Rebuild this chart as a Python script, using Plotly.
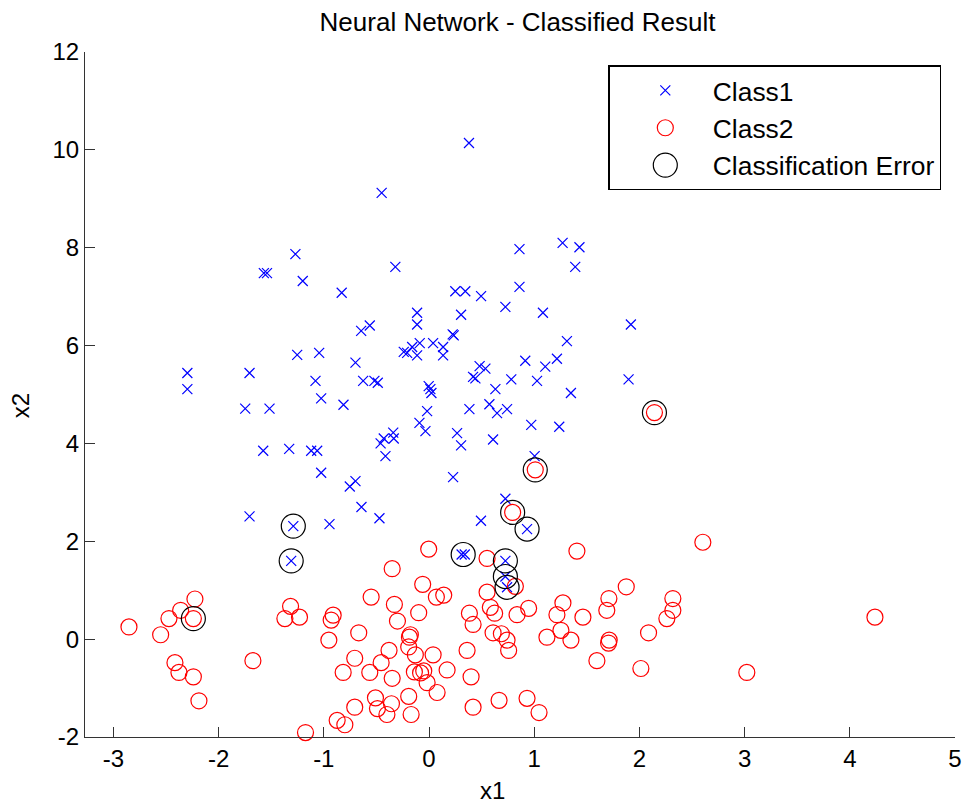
import plotly.graph_objects as go

# Class 1 (blue x)
class1_x = [-0.45, 0.38, -1.27, -1.57, -1.54, -1.20, -0.83, 0.86, 1.27, 1.43, -0.32, 1.39, 0.25, 0.345,
            0.495, 0.86,
            -0.645, -0.563, -1.253, -1.044, -0.699, -2.297, -1.706, -2.297, -1.079, -0.626, -0.519, -0.487,
            -1.025, -0.813, -1.747, -1.516, -0.43, -0.34, -0.335, -0.46, -0.414, -1.576, -1.329, -1.12,
            -1.063, -1.025, -0.753, -0.699, -0.642, -0.471, -1.706, -1.29, -0.946, -1.31,
            0.726, 1.083, -0.113, -0.113, 0.305, 0.225, 0.235, 1.919, 1.311, -0.24, -0.208, -0.16, -0.088,
            -0.113, 0.039, 0.134, 0.134, 0.915, 1.216, 1.105, 0.481, 0.536, 0.419, 0.441, 0.782, 1.027,
            1.897, 0.631, -0.003, 0.013, 0.023, 1.349, -0.018, -0.091, -0.034, 0.267, 0.305, 0.384, 0.574,
            0.647, 0.742, 0.609, 0.972, 1.238, 1.004, 0.229, 0.726, 0.494, 0.932, 0.31, 0.34, 0.726,
            0.726, 0.742]
class1_y = [9.12, 10.14, 7.87, 7.48, 7.48, 7.32, 7.08, 7.97, 8.10, 8.01, 7.61, 7.61, 7.11, 7.11,
            7.01, 7.20,
            6.30, 6.41, 5.81, 5.85, 5.65, 5.44, 5.44, 5.11, 5.28, 5.28, 5.28, 5.24,
            4.92, 4.79, 4.71, 4.71, 4.10, 4.22, 4.10, 4.00, 3.74, 3.85, 3.89, 3.85,
            3.85, 3.40, 3.12, 3.23, 2.70, 2.47, 2.51, 2.31, 2.35, 1.60,
            6.79, 6.67, 6.67, 6.43, 6.63, 6.23, 6.21, 6.43, 6.09, 5.87, 5.85, 5.97, 6.05,
            5.80, 6.05, 5.97, 5.80, 5.69, 5.73, 5.57, 5.58, 5.53, 5.36, 5.33, 5.31, 5.28,
            5.31, 5.11, 5.17, 5.11, 5.03, 5.03, 4.66, 4.42, 4.25, 4.21, 3.96, 4.70, 4.80,
            4.62, 4.70, 4.08, 4.38, 4.34, 3.74, 3.31, 2.87, 2.42, 2.25, 1.73, 1.73, 1.60,
            1.28, 1.06]

# Class 2 (red o)
class2_x = [-2.225, -2.361, -2.472, -2.24, -2.852, -2.551, -2.415, -2.377, -2.24, -2.187, -1.674,
            -1.316, -1.37, -1.231, -0.35, -0.55, -0.911, -0.93, -0.952, -0.668, -0.706, -0.816,
            -0.563, -0.455, -0.38, -0.509, -0.49, -0.706, -0.873, -0.80, -1.174, -0.40, -0.357,
            0.795, -0.003, 1.406, 0.552, 0.821, -0.06, 0.07, 0.14, 0.552, 1.875, 2.318, 2.318, 2.261,
            1.71, 1.69, 1.273, 1.216, 1.463, 0.947, 0.837, 0.583, 0.624, 0.384, 0.419, -0.098, -0.329,
            -0.30, -0.177, -0.186, -0.193, -0.13, 0.039, 0.362, 0.609, 0.688, 0.742, 0.757, 1.121,
            1.254, 1.349, 1.713, 1.707, 2.087, 1.596, 2.014, -0.35, -0.139, -0.08, -0.05, -0.018,
            0.172, 0.077, 0.40, -0.193, -0.17, 0.419, 0.666, 0.932, 1.046,
            1.01, 2.143, 2.603, 4.239, 3.021]
class2_y = [0.82, 0.59, 0.42, 0.42, 0.25, 0.09, -0.48, -0.68, -0.77, -1.26, -0.44,
            0.67, 0.42, 0.45, 1.44, 0.86, 0.49, 0.39, -0.02, 0.13, -0.39, -0.68,
            -0.68, -0.48, -0.23, -1.20, -1.42, -1.39, -1.66, -1.75, -1.91, -1.54, -1.32,
            2.59, 1.84, 1.80, 1.65, 1.08, 1.12, 0.86, 0.90, 0.96, 1.07, 0.83, 0.59, 0.42,
            0.83, 0.59, 0.74, 0.50, 0.45, 0.63, 0.50, 0.65, 0.53, 0.53, 0.30, 0.54, 0.71,
            0.37, 0.09, 0.04, -0.16, -0.32, -0.32, -0.23, 0.13, 0.11, -0.02, -0.23, 0.04,
            0.18, -0.02, -0.02, -0.08, 0.13, -0.44, -0.60, -0.80, -0.67, -0.69, -0.65, -0.89,
            -0.63, -1.09, -0.77, -1.17, -1.54, -1.39, -1.25, -1.21, -1.50,
            3.46, 4.63, 1.98, 0.45, -0.68]

# Misclassified points
error_x = [-2.24, -1.29, -1.31, 0.325, 0.726, 0.726, 0.742, 0.795, 0.932, 1.01, 2.143]
error_y = [0.42, 2.31, 1.60, 1.73, 1.60, 1.28, 1.06, 2.59, 2.25, 3.46, 4.63]

x_ticks = [-3, -2, -1, 0, 1, 2, 3, 4, 5]
x_tick_labels = ["-3", "-2", "-1", "0", "1", "2", "3", "4", "5"]
y_ticks = [-2, 0, 2, 4, 6, 8, 10, 12]
y_tick_labels = ["-2", "0", "2", "4", "6", "8", "10", "12"]

FONT = "Liberation Sans, Arial, Helvetica, sans-serif"

fig = go.Figure()
fig.add_trace(go.Scatter(
    x=class1_x, y=class1_y, mode="markers", name="Class1", cliponaxis=False,
    marker=dict(symbol="x-thin", size=10, color="#0000ff",
                line=dict(color="#0000ff", width=1.2))))
fig.add_trace(go.Scatter(
    x=class2_x, y=class2_y, mode="markers", name="Class2", cliponaxis=False,
    marker=dict(symbol="circle-open", size=16, color="#ff0000",
                line=dict(color="#ff0000", width=1.2))))
fig.add_trace(go.Scatter(
    x=error_x, y=error_y, mode="markers", name="Classification Error", cliponaxis=False,
    marker=dict(symbol="circle-open", size=24, color="#000000",
                line=dict(color="#000000", width=1.2))))

axis_common = dict(
    ticks="inside", ticklen=10, tickwidth=1, tickcolor="#333333",
    showline=True, linecolor="#333333", linewidth=1,
    showgrid=False, zeroline=False, mirror=False, automargin=False,
    tickfont=dict(family=FONT, size=24, color="#000000"),
)

fig.update_layout(
    width=965, height=805,
    paper_bgcolor="white", plot_bgcolor="white",
    margin=dict(l=85, r=10, t=52, b=68, autoexpand=False),
    font=dict(family=FONT, color="#000000"),
    title=dict(text="Neural Network - Classified Result", x=0.5363, xanchor="center",
               xref="container", y=0.9727, yanchor="middle", yref="container",
               font=dict(family=FONT, size=26, color="#000000")),
    xaxis=dict(range=[-3.27, 5], tickvals=x_ticks, ticktext=x_tick_labels, **axis_common),
    yaxis=dict(range=[-2, 12], tickvals=y_ticks, ticktext=y_tick_labels, **axis_common),
    legend=dict(x=0.6015, y=0.9806, xanchor="left", yanchor="top",
                bgcolor="white", bordercolor="#000000", borderwidth=1.5,
                font=dict(family=FONT, size=26.4, color="#000000"),
                itemwidth=93),
    showlegend=True,
    annotations=[
        dict(text="x1", xref="paper", yref="paper", x=0.468, y=-0.0774,
             xanchor="center", yanchor="middle", showarrow=False,
             font=dict(family=FONT, size=24, color="#000000")),
        dict(text="x2", xref="paper", yref="paper", x=-0.0747, y=0.483,
             xanchor="center", yanchor="middle", showarrow=False, textangle=-90,
             font=dict(family=FONT, size=24, color="#000000")),
    ],
)

# Remove default page margin; enlarge the legend symbol of the error trace
# (plotly caps legend marker sizes at 16 px).
post = """
document.body.style.margin = '0';
document.body.style.padding = '0';
document.body.style.overflow = 'hidden';
var gd = document.getElementsByClassName('plotly-graph-div')[0];
function fixLegend() {
  var items = gd.querySelectorAll('.legend .traces');
  items.forEach(function(it) {
    var t = it.querySelector('.legendtext');
    var pts = it.querySelectorAll('.legendpoints path.scatterpts');
    if (t && t.textContent === 'Classification Error') {
      pts.forEach(function(p) {
        p.setAttribute('d', 'M12,0A12,12 0 1,1 0,-12A12,12 0 0,1 12,0Z');
      });
    }
    var g = it.querySelector('.legendpoints');
    if (g) { g.setAttribute('transform', 'translate(4,0)'); }
  });
}
fixLegend();
if (gd.on) { gd.on('plotly_afterplot', fixLegend); }
"""

fig.write_html("out.html", post_script=post, config={"displayModeBar": False})
